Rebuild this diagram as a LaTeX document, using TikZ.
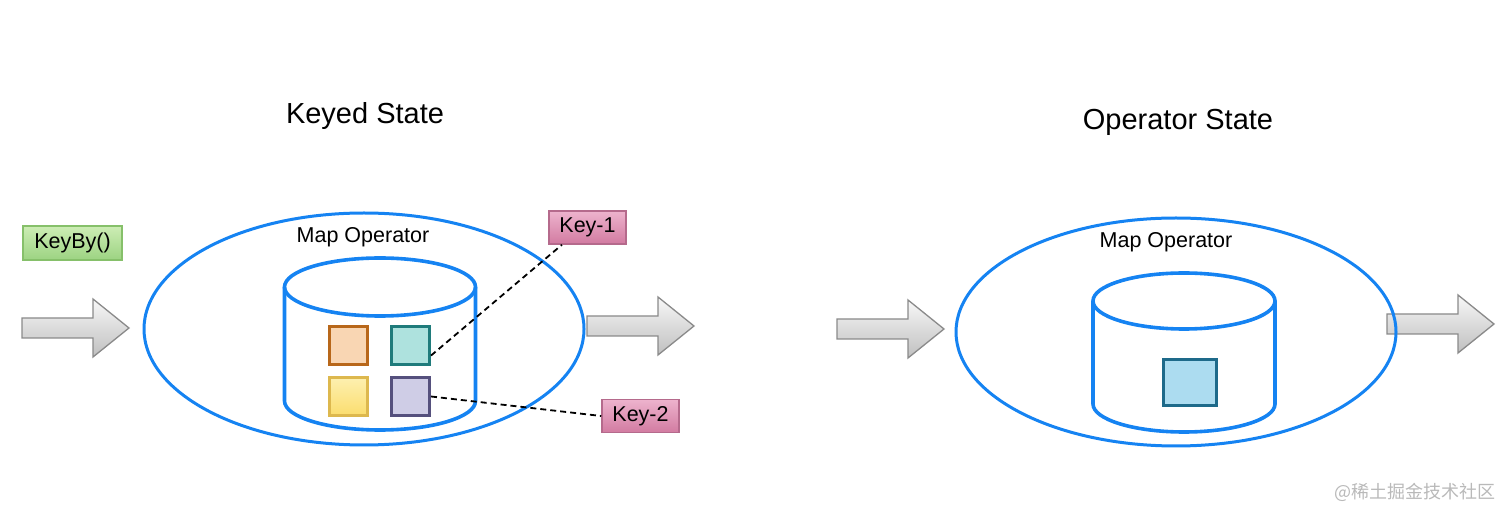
\documentclass[tikz,border=0pt]{standalone}
\usepackage{fontspec}
\setmainfont{Liberation Sans}
\newfontfamily\cjk{Noto Sans CJK SC}
\usetikzlibrary{calc}
\definecolor{eblue}{HTML}{1583F2}
\definecolor{arrowedge}{HTML}{8A8A8A}
\definecolor{kbfill1}{HTML}{CDEDB5}
\definecolor{kbfill2}{HTML}{9CD382}
\definecolor{kbdraw}{HTML}{86C06A}
\definecolor{kfill1}{HTML}{EDB3CD}
\definecolor{kfill2}{HTML}{D27BA1}
\definecolor{kdraw}{HTML}{B56A8C}
\definecolor{orD}{HTML}{B8671A}
\definecolor{orF}{HTML}{F9D6B3}
\definecolor{teD}{HTML}{1F7B7B}
\definecolor{teF}{HTML}{AEE2DE}
\definecolor{yeD}{HTML}{DDB84E}
\definecolor{yeF1}{HTML}{FDF0B0}
\definecolor{yeF2}{HTML}{FBDD6E}
\definecolor{puD}{HTML}{55507D}
\definecolor{puF}{HTML}{CFCDE6}
\definecolor{blD}{HTML}{1E6A8A}
\definecolor{blF}{HTML}{ACDCF0}
\tikzset{
  bigarrowstyle/.style={draw=arrowedge, line width=1.3pt, top color=gray!6, bottom color=gray!50, line join=miter},
  ringstyle/.style={draw=eblue, line width=3pt},
  cylstyle/.style={draw=eblue, line width=3.6pt},
  titlestyle/.style={font=\fontsize{29}{34}\selectfont},
  mapstyle/.style={font=\fontsize{21.5}{25}\selectfont},
  keystyle/.style={draw=kdraw, line width=1.5pt, top color=kfill1, bottom color=kfill2, minimum width=77pt, minimum height=33pt, inner sep=0pt, font=\fontsize{21.5}{25}\selectfont},
  kbstyle/.style={draw=kbdraw, line width=1.5pt, top color=kbfill1, bottom color=kbfill2, minimum width=99pt, minimum height=34pt, inner sep=0pt, font=\fontsize{21.5}{25}\selectfont},
  sqstyle/.style={line width=3pt, minimum width=38pt, minimum height=38pt, inner sep=0pt},
  dashstyle/.style={line width=1.8pt, dash pattern=on 6pt off 4pt}
}
\newcommand{\fatarrow}[3]{% x0, xtip, cy
  \path[bigarrowstyle] (#1,#3-10) -- (#2-36,#3-10) -- (#2-36,#3-29) -- (#2,#3) -- (#2-36,#3+29) -- (#2-36,#3+10) -- (#1,#3+10) -- cycle;
}
\newcommand{\cyl}[5]{% cx, rx, topcy, botcy, ry
  \draw[cylstyle] (#1,#3) ellipse [x radius=#2, y radius=#5];
  \draw[cylstyle] (#1-#2,#3) -- (#1-#2,#4) arc [start angle=180, end angle=360, x radius=#2, y radius=#5] -- (#1+#2,#3);
}
\begin{document}
\begin{tikzpicture}[x=1pt,y=1pt]
\useasboundingbox (0,0) rectangle (1512,519);

% titles
\node[titlestyle] (t1) at (365,403) {Keyed State};
\node[titlestyle] (t2) at (1178,397) {Operator State};

% KeyBy
\node[kbstyle] (kb) at (72.5,276) {KeyBy()};

% arrows
\fatarrow{22}{129}{191}
\fatarrow{587}{694}{193}
\fatarrow{837}{944}{190}
\fatarrow{1387}{1494}{195}

% left operator
\draw[ringstyle] (364,190) ellipse [x radius=220, y radius=116];
\node[mapstyle] (m1) at (363,282) {Map Operator};
\cyl{380}{95.5}{232}{118}{29}

\node[sqstyle, draw=orD, fill=orF] (sqo) at (348.5,173) {};
\node[sqstyle, draw=teD, fill=teF] (sqt) at (410.5,173) {};
\node[sqstyle, draw=yeD, top color=yeF1, bottom color=yeF2] (sqy) at (348.5,122.5) {};
\node[sqstyle, draw=puD, fill=puF] (sqp) at (410.5,122.5) {};

\node[keystyle] (k1) at (587.5,291.5) {Key-1};
\node[keystyle] (k2) at (640.5,103) {Key-2};

\draw[dashstyle] (sqt.335) -- (k1.214);
\draw[dashstyle] (sqp.east) -- (k2.west);

% right operator
\draw[ringstyle] (1176,187) ellipse [x radius=220, y radius=114];
\node[mapstyle] (m2) at (1166,277) {Map Operator};
\cyl{1184}{91}{218}{115}{28}
\node[line width=3pt, draw=blD, fill=blF, minimum width=53pt, minimum height=46pt, inner sep=0pt] (sqb) at (1189.5,136) {};

% watermark
\node[text=gray!55, font=\cjk\fontsize{18}{20}\selectfont] (wm) at (1415,27) {@稀土掘金技术社区};
\end{tikzpicture}
\end{document}
